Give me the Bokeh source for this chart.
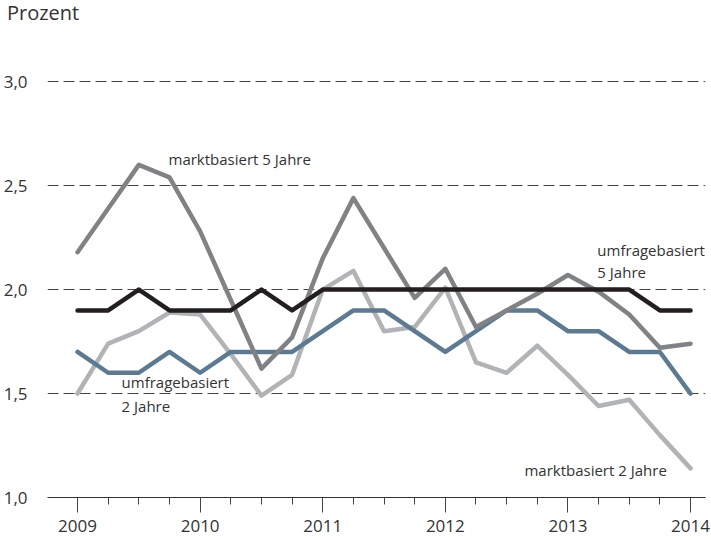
from bokeh.plotting import figure
from bokeh.models import Range1d, FixedTicker, Label, Div
from bokeh.layouts import column
from bokeh.embed import file_html
from bokeh.resources import INLINE

# quarterly dates 2009.0 ... 2014.0
quarters = [2009 + 0.25 * i for i in range(21)]

umfrage_5j = [1.9, 1.9, 2.0, 1.9, 1.9, 1.9, 2.0, 1.9, 2.0, 2.0, 2.0,
              2.0, 2.0, 2.0, 2.0, 2.0, 2.0, 2.0, 2.0, 1.9, 1.9]
umfrage_2j = [1.7, 1.6, 1.6, 1.7, 1.6, 1.7, 1.7, 1.7, 1.8, 1.9, 1.9,
              1.8, 1.7, 1.8, 1.9, 1.9, 1.8, 1.8, 1.7, 1.7, 1.5]
markt_5j = [2.18, 2.39, 2.60, 2.54, 2.28, 1.95, 1.62, 1.77, 2.15, 2.44, 2.20,
            1.96, 2.10, 1.82, 1.90, 1.98, 2.07, 1.99, 1.88, 1.72, 1.74]
markt_2j = [1.50, 1.74, 1.80, 1.89, 1.88, 1.69, 1.49, 1.59, 2.00, 2.09, 1.80,
            1.82, 2.01, 1.65, 1.60, 1.73, 1.59, 1.44, 1.47, 1.30, 1.14]

year_ticks = [2009, 2010, 2011, 2012, 2013, 2014]
y_ticks = [1.0, 1.5, 2.0, 2.5, 3.0]
y_tick_labels = ["1,0", "1,5", "2,0", "2,5", "3,0"]
unit_text = "Prozent"

FONT = "Open Sans"
TXT = "#333333"

HEAD = 30
unit_div = Div(text=unit_text, width=711, height=HEAD, margin=(0, 0, 0, 0),
               styles={"font-family": FONT, "font-size": "20px", "color": TXT,
                       "line-height": "20px", "padding-left": "7px",
                       "padding-top": "3px", "box-sizing": "border-box"})

p = figure(width=711, height=542 - HEAD, output_backend="svg", toolbar_location=None,
           x_range=Range1d(2008.755, 2014.122), y_range=Range1d(1.0, 3.15),
           min_border_left=47, min_border_right=6, min_border_top=50 - HEAD,
           min_border_bottom=45, margin=(0, 0, 0, 0))
p.outline_line_color = None
p.background_fill_color = "white"
p.border_fill_color = "white"

# x axis
p.xaxis.ticker = FixedTicker(ticks=year_ticks, minor_ticks=quarters)
p.xaxis.axis_line_color = "#333333"
p.xaxis.axis_line_width = 1.2
p.xaxis.major_tick_out = 15
p.xaxis.major_tick_in = 0
p.xaxis.minor_tick_out = 7
p.xaxis.minor_tick_in = 0
p.xaxis.major_tick_line_color = "#444444"
p.xaxis.minor_tick_line_color = "#444444"
p.xaxis.major_label_text_font = FONT
p.xaxis.major_label_text_font_size = "17px"
p.xaxis.major_label_text_color = TXT
p.xaxis.major_label_standoff = 7

# y axis
p.yaxis.ticker = FixedTicker(ticks=y_ticks)
p.yaxis.major_label_overrides = {t: l for t, l in zip(y_ticks, y_tick_labels)}
p.yaxis.axis_line_color = None
p.yaxis.major_tick_line_color = None
p.yaxis.minor_tick_line_color = None
p.yaxis.major_label_text_font = FONT
p.yaxis.major_label_text_font_size = "17px"
p.yaxis.major_label_text_color = TXT
p.yaxis.major_label_standoff = 14

p.xgrid.grid_line_color = None
p.ygrid.ticker = FixedTicker(ticks=[1.5, 2.0, 2.5, 3.0])
p.ygrid.grid_line_color = "#444444"
p.ygrid.grid_line_dash = "11 5"
p.ygrid.grid_line_width = 1

LW = 4.5
p.line(quarters, markt_2j, line_color="#b1b3b6", line_width=LW, line_cap="round", line_join="round")
p.line(quarters, umfrage_2j, line_color="#5c7a91", line_width=LW, line_cap="round", line_join="round")
p.line(quarters, markt_5j, line_color="#808285", line_width=LW, line_cap="round", line_join="round")
p.line(quarters, umfrage_5j, line_color="#231f20", line_width=LW, line_cap="round", line_join="round")

def lab(x, y, text, size="15px"):
    p.add_layout(Label(x=x, y=y, text=text, text_font=FONT, text_font_size=size,
                       text_color=TXT, text_baseline="middle", text_align="left"))

lab(2009.742, 2.63, "marktbasiert 5 Jahre")
lab(2013.24, 2.19, "umfragebasiert")
lab(2013.24, 2.085, "5 Jahre")
lab(2009.359, 1.555, "umfragebasiert")
lab(2009.359, 1.44, "2 Jahre")
lab(2012.645, 1.13, "marktbasiert 2 Jahre")

layout = column(unit_div, p, spacing=0, margin=(0, 0, 0, 0))
open("out.html", "w").write(file_html(layout, INLINE))
